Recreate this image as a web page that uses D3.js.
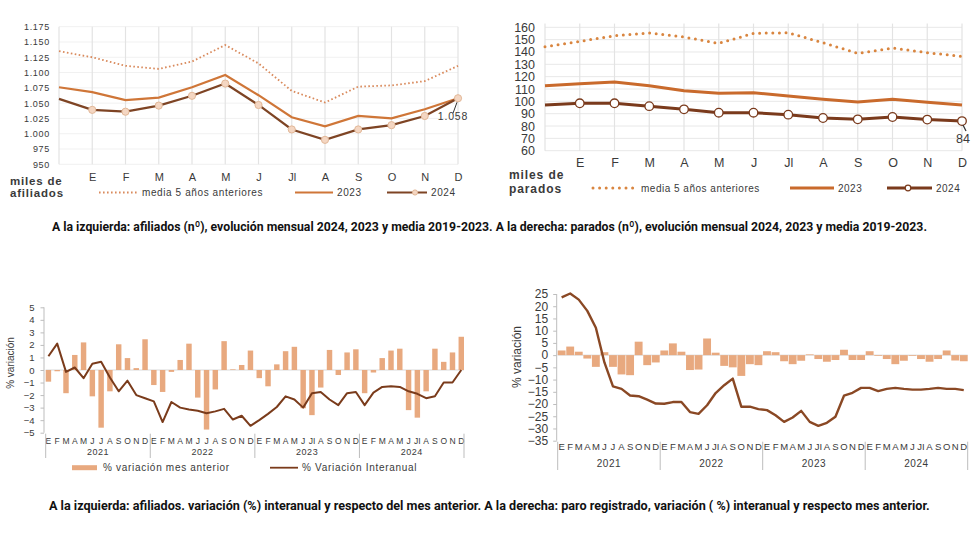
<!DOCTYPE html>
<html><head><meta charset="utf-8">
<script src="https://cdn.jsdelivr.net/npm/d3@7"></script>
<style>body{margin:0;background:#fff}svg{display:block;font-family:"Liberation Sans",Arial,sans-serif}</style>
</head><body><svg id="c" width="980" height="553"></svg>
<script>
// ---------- DATA ----------
const mesesAnual = ["", "E","F","M","A","M","J","Jl","A","S","O","N","D"];
const ticksAfiliados = [950,975,1000,1025,1050,1075,1100,1125,1150,1175];
const afiliadosMedia = [1135,1125,1111,1106,1118,1145,1115,1070,1051,1077,1079,1086,1111];
const afiliados2023  = [1076,1068,1055,1059,1076,1096,1063,1027,1012,1029,1025,1040,1058];
const afiliados2024  = [1057,1039,1036,1046,1062,1082,1047,1007,990,1007,1014,1029,1058];

const ticksParados = [60,70,80,90,100,110,120,130,140,150,160];
const paradosMedia = [144.3,148.6,153.2,155.4,152.1,147,155.1,155.6,147.5,138.9,143.2,139.4,136.5];
const parados2023  = [112.7,114.3,115.7,112.7,108.6,106.5,107,104.3,101.7,99.5,101.7,99.2,97];
const parados2024  = [97,98.4,98.4,96.1,93.5,90.8,90.8,89.2,86.5,85.4,87.3,85.2,84];

const años = ["2021","2022","2023","2024"];
const mesesJJ = ["E","F","M","A","M","J","J","A","S","O","N","D"];
const mesesJI = ["E","F","M","A","M","J","JI","A","S","O","N","D"];
const etiquetasIzq = [mesesJJ, mesesJJ, mesesJI, mesesJI].flat();
const etiquetasDer = [mesesJJ, mesesJI, mesesJI, mesesJI].flat();

const ticksVarAfil = [-5,-4,-3,-2,-1,0,1,2,3,4,5];
const afilMesAnterior = [-0.93,-0.1,-1.85,1.2,2.2,-2.1,-4.6,-1.7,2.05,0.95,0.15,2.45,
  -1.2,-1.75,-0.15,0.8,2.1,-2.2,-4.75,-1.55,2.3,0.05,0.4,1.55,
  -0.65,-1.3,0.45,1.5,1.85,-3.05,-3.6,-1.4,1.6,-0.4,1.4,1.65,
  -1.85,-0.2,0.95,1.55,1.7,-3.2,-3.8,-1.7,1.7,0.65,1.4,2.65];
const afilInteranual = [1.1,2.1,-0.15,0.2,-0.65,0.5,0.65,-0.6,-1.7,-0.85,-2.0,-2.25,
  -2.5,-4.15,-2.55,-3.0,-3.15,-3.25,-3.45,-3.3,-3.1,-3.95,-3.65,-4.45,
  -4.0,-3.5,-2.95,-2.1,-2.35,-3.0,-1.85,-1.75,-2.35,-2.8,-1.85,-1.75,
  -2.8,-1.8,-1.35,-1.3,-1.35,-1.7,-1.9,-2.25,-2.1,-1.0,-1.0,0.0];

const ticksVarParo = [-35,-30,-25,-20,-15,-10,-5,0,5,10,15,20,25];
const paroMesAnterior = [1.9,3.5,1.4,-1.4,-4.8,1.2,-4.8,-7.9,-8.2,5.5,-4.1,-3.0,
  1.9,4.8,1.4,-6.1,-5.9,6.8,1.0,-4.4,-5.0,-8.5,-3.7,-4.1,
  1.6,1.2,-2.5,-3.7,-2.3,0.3,-1.6,-2.7,-2.0,2.2,-2.0,-2.0,
  1.6,-0.3,-1.6,-3.7,-2.3,-0.3,-1.6,-2.7,-1.6,1.9,-2.2,-2.5];
const paroInteranual = [23.6,25.2,22.7,18.1,11.2,-3.0,-12.8,-13.8,-16.5,-16.8,-18.2,-19.8,
  -19.9,-19.2,-19.2,-23.3,-24.0,-20.5,-15.5,-12.3,-9.6,-21.1,-21.1,-22.1,
  -22.5,-24.6,-27.3,-25.5,-22.8,-27.3,-28.9,-27.7,-25.2,-16.6,-15.4,-13.4,
  -13.4,-14.7,-13.8,-13.4,-13.8,-14.1,-14.1,-13.8,-13.4,-13.8,-13.8,-14.3];

const caption1 = "A la izquierda: afiliados (nº), evolución mensual 2024, 2023 y media 2019-2023. A la derecha: parados (nº), evolución mensual 2024, 2023 y media 2019-2023.";
const caption2 = "A la izquierda: afiliados. variación (%) interanual y respecto del mes anterior. A la derecha: paro registrado, variación ( %) interanual y respecto mes anterior.";

// ---------- DRAW ----------
const svg = d3.select("#c");
svg.append("rect").attr("width",980).attr("height",553).attr("fill","#fff");
const es = d3.formatLocale({decimal:",",thousands:".",grouping:[3],currency:["","€"]});
const fmtMiles = es.format(",");
const TXT = "#3a3a3a";

function styleAxis(g, size, spacing){
  g.attr("font-family",null).attr("font-size",null);
  g.select(".domain").remove();
  g.selectAll("text").attr("font-size",size).attr("fill",TXT).attr("letter-spacing",spacing||0);
}

// ===== Top-left: afiliados =====
(function(){
  const g = svg.append("g");
  const x = d3.scalePoint().domain(d3.range(mesesAnual.length)).range([59,458]);
  const y = d3.scaleLinear().domain([950,1175]).range([164.3,26.7]);
  g.selectAll(".hg").data(ticksAfiliados).join("line")
    .attr("x1",59).attr("x2",458).attr("y1",d=>y(d)).attr("y2",d=>y(d))
    .attr("stroke","#f1f1f1").attr("stroke-width",1);
  g.selectAll(".vg").data(d3.range(mesesAnual.length)).join("line")
    .attr("x1",d=>x(d)).attr("x2",d=>x(d)).attr("y1",y(1175)).attr("y2",y(950))
    .attr("stroke","#e3e3e3").attr("stroke-width",1.2);
  const ya = g.append("g").attr("transform","translate(59,0)")
    .call(d3.axisLeft(y).tickValues(ticksAfiliados).tickFormat(fmtMiles).tickSize(0).tickPadding(9));
  styleAxis(ya, 9, 0.7);
  const xa = g.append("g").attr("transform","translate(0,167)")
    .call(d3.axisBottom(x).tickFormat(i=>mesesAnual[i]).tickSize(0).tickPadding(6));
  styleAxis(xa, 11);
  const line = d3.line().x((d,i)=>x(i)).y(d=>y(d));
  g.append("path").datum(afiliadosMedia).attr("d",line).attr("fill","none")
    .attr("stroke","#d98a5c").attr("stroke-width",1.8).attr("stroke-dasharray","1.6 2.4");
  g.append("path").datum(afiliados2023).attr("d",line).attr("fill","none")
    .attr("stroke","#cf7638").attr("stroke-width",2.2);
  g.append("path").datum(afiliados2024).attr("d",line).attr("fill","none")
    .attr("stroke","#7e4424").attr("stroke-width",2.2);
  g.selectAll(".mk").data(afiliados2024.slice(1)).join("circle")
    .attr("cx",(d,i)=>x(i+1)).attr("cy",d=>y(d)).attr("r",3.6)
    .attr("fill","#f4d6c2").attr("stroke","#e2b898").attr("stroke-width",1);
  const last = afiliados2024.length-1;
  g.append("line").attr("x1",x(last)-1).attr("y1",y(afiliados2024[last])+4)
    .attr("x2",x(last)-5).attr("y2",y(afiliados2024[last])+15).attr("stroke","#333").attr("stroke-width",1);
  g.append("text").attr("x",x(last)-5).attr("y",y(afiliados2024[last])+22).attr("text-anchor","middle")
    .attr("font-size",10.5).attr("fill",TXT).attr("letter-spacing",0.8).text(fmtMiles(afiliados2024[last]));
  g.append("text").attr("x",10).attr("y",185).attr("font-size",11.5).attr("font-weight",600)
    .attr("fill",TXT).attr("letter-spacing",0.8).text("miles de");
  g.append("text").attr("x",10).attr("y",197).attr("font-size",11.5).attr("font-weight",600)
    .attr("fill",TXT).attr("letter-spacing",0.8).text("afiliados");
  const ly = 192.5;
  g.append("line").attr("x1",99).attr("x2",137).attr("y1",ly).attr("y2",ly)
    .attr("stroke","#d98a5c").attr("stroke-width",1.8).attr("stroke-dasharray","1.6 2.4");
  g.append("text").attr("x",142).attr("y",ly+3.5).attr("font-size",10).attr("fill",TXT)
    .attr("letter-spacing",0.6).text("media 5 años anteriores");
  g.append("line").attr("x1",295).attr("x2",333).attr("y1",ly).attr("y2",ly)
    .attr("stroke","#cf7638").attr("stroke-width",2.2);
  g.append("text").attr("x",337).attr("y",ly+3.5).attr("font-size",10).attr("fill",TXT)
    .attr("letter-spacing",0.6).text("2023");
  g.append("line").attr("x1",387).attr("x2",427).attr("y1",ly).attr("y2",ly)
    .attr("stroke","#7e4424").attr("stroke-width",2.2);
  g.append("circle").attr("cx",415).attr("cy",ly).attr("r",2.6)
    .attr("fill","#f4d6c2").attr("stroke","#e2b898");
  g.append("text").attr("x",431).attr("y",ly+3.5).attr("font-size",10).attr("fill",TXT)
    .attr("letter-spacing",0.6).text("2024");
})();

// ===== Top-right: parados =====
(function(){
  const g = svg.append("g");
  const x = d3.scalePoint().domain(d3.range(mesesAnual.length)).range([545,962]);
  const y = d3.scaleLinear().domain([60,160]).range([150.7,27.3]);
  g.selectAll(".hg").data(ticksParados).join("line")
    .attr("x1",545).attr("x2",962).attr("y1",d=>y(d)).attr("y2",d=>y(d))
    .attr("stroke","#e8e8e8").attr("stroke-width",1);
  g.selectAll(".vg").data(d3.range(mesesAnual.length)).join("line")
    .attr("x1",d=>x(d)).attr("x2",d=>x(d)).attr("y1",y(163)).attr("y2",y(60))
    .attr("stroke","#e3e3e3").attr("stroke-width",1.2);
  const ya = g.append("g").attr("transform","translate(545,0)")
    .call(d3.axisLeft(y).tickValues(ticksParados).tickSize(0).tickPadding(10));
  styleAxis(ya, 12.5);
  const xa = g.append("g").attr("transform","translate(0,155)")
    .call(d3.axisBottom(x).tickFormat(i=>mesesAnual[i]).tickSize(0).tickPadding(3));
  styleAxis(xa, 12.5);
  const line = d3.line().x((d,i)=>x(i)).y(d=>y(d));
  g.append("path").datum(paradosMedia).attr("d",line).attr("fill","none")
    .attr("stroke","#d9853f").attr("stroke-width",3).attr("stroke-linecap","round").attr("stroke-dasharray","0 6.6");
  g.append("path").datum(parados2023).attr("d",line).attr("fill","none")
    .attr("stroke","#c96a2c").attr("stroke-width",3);
  g.append("path").datum(parados2024).attr("d",line).attr("fill","none")
    .attr("stroke","#7a3a1c").attr("stroke-width",3);
  g.selectAll(".mk").data(parados2024.slice(1)).join("circle")
    .attr("cx",(d,i)=>x(i+1)).attr("cy",d=>y(d)).attr("r",4.3)
    .attr("fill","#fff").attr("stroke","#7a3a1c").attr("stroke-width",1.3);
  const last = parados2024.length-1;
  g.append("line").attr("x1",x(last)+1).attr("y1",y(parados2024[last])+4)
    .attr("x2",x(last)+4).attr("y2",y(parados2024[last])+10).attr("stroke","#333").attr("stroke-width",1.2);
  g.append("text").attr("x",x(last)+1).attr("y",y(parados2024[last])+22).attr("text-anchor","middle")
    .attr("font-size",12.5).attr("fill",TXT).text(parados2024[last]);
  g.append("text").attr("x",509).attr("y",179).attr("font-size",12).attr("font-weight","bold")
    .attr("fill",TXT).attr("letter-spacing",0.9).text("miles de");
  g.append("text").attr("x",509).attr("y",192.5).attr("font-size",12).attr("font-weight","bold")
    .attr("fill",TXT).attr("letter-spacing",0.9).text("parados");
  const ly = 188;
  g.append("line").attr("x1",593).attr("x2",634).attr("y1",ly).attr("y2",ly)
    .attr("stroke","#d9853f").attr("stroke-width",3).attr("stroke-linecap","round").attr("stroke-dasharray","0 6.6");
  g.append("text").attr("x",641).attr("y",ly+3.5).attr("font-size",10).attr("fill",TXT)
    .attr("letter-spacing",0.5).text("media 5 años anteriores");
  g.append("line").attr("x1",790).attr("x2",834).attr("y1",ly).attr("y2",ly)
    .attr("stroke","#c96a2c").attr("stroke-width",3);
  g.append("text").attr("x",838).attr("y",ly+3.5).attr("font-size",10).attr("fill",TXT)
    .attr("letter-spacing",0.5).text("2023");
  g.append("line").attr("x1",887).attr("x2",932).attr("y1",ly).attr("y2",ly)
    .attr("stroke","#7a3a1c").attr("stroke-width",3);
  g.append("circle").attr("cx",908).attr("cy",ly).attr("r",2.8)
    .attr("fill","#fff").attr("stroke","#7a3a1c").attr("stroke-width",1.2);
  g.append("text").attr("x",936).attr("y",ly+3.5).attr("font-size",10).attr("fill",TXT)
    .attr("letter-spacing",0.5).text("2024");
})();

// ===== Bottom charts helper =====
function varChart(o){
  const g = svg.append("g");
  const x = d3.scaleBand().domain(d3.range(o.bars.length)).range([o.x0,o.x1]).paddingInner(o.pad);
  const y = d3.scaleLinear().domain(o.dom).range([o.yb,o.yt]);
  g.append("line").attr("x1",o.x0).attr("x2",o.x1).attr("y1",y(0)).attr("y2",y(0))
    .attr("stroke","#d9d9d9").attr("stroke-width",1);
  g.selectAll(".bar").data(o.bars).join("rect")
    .attr("x",(d,i)=>x(i)).attr("width",x.bandwidth())
    .attr("y",d=>y(Math.max(0,d))).attr("height",d=>Math.abs(y(d)-y(0)))
    .attr("fill",o.barColor);
  g.append("path").datum(o.line)
    .attr("d",d3.line().x((d,i)=>x(i)+x.bandwidth()/2).y(d=>y(d)))
    .attr("fill","none").attr("stroke",o.lineColor).attr("stroke-width",o.lw).attr("stroke-linejoin","round");
  const ya = g.append("g").attr("transform",`translate(${o.axisX},0)`)
    .call(d3.axisLeft(y).tickValues(o.ticks).tickSize(3.5).tickPadding(o.tp));
  ya.attr("font-family",null).attr("font-size",null);
  ya.select(".domain").attr("stroke","#bdbdbd").attr("d",`M0,${o.yt}V${o.yb}`);
  ya.selectAll(".tick line").attr("stroke","#bdbdbd");
  ya.selectAll("text").attr("font-size",o.tfs).attr("fill",TXT);
  const xa = g.append("g").attr("transform",`translate(0,${o.yb})`)
    .call(d3.axisBottom(x).tickFormat(i=>o.labels[i]).tickSize(0).tickPadding(o.mp));
  styleAxis(xa, o.mfs);
  const step = (o.x1-o.x0)/años.length;
  const yrs = d3.scaleBand().domain(años).range([o.x0,o.x1]);
  g.selectAll(".div").data(d3.range(años.length+1)).join("line")
    .attr("x1",d=>o.x0+d*step).attr("x2",d=>o.x0+d*step)
    .attr("y1",o.yb+1).attr("y2",o.divBottom).attr("stroke","#bdbdbd").attr("stroke-width",1);
  g.selectAll(".yr").data(años).join("text")
    .attr("x",d=>yrs(d)+yrs.bandwidth()/2).attr("y",o.yearY).attr("text-anchor","middle")
    .attr("font-size",o.yfs).attr("fill",TXT).attr("letter-spacing",0.5).text(d=>d);
  g.append("text").attr("transform",`translate(${o.labX},${o.labY}) rotate(-90)`)
    .attr("text-anchor","middle").attr("font-size",o.lfs).attr("fill",TXT).text("% variación");
  return g;
}

const gBL = varChart({bars:afilMesAnterior,line:afilInteranual,labels:etiquetasIzq,
  x0:45.7,x1:464,pad:0.38,dom:[-5,5],yb:432.7,yt:307.3,ticks:ticksVarAfil,
  barColor:"#e8a97f",lineColor:"#7a3b1b",lw:2,axisX:44,tp:6,tfs:9.5,mp:5,mfs:8.5,
  yearY:455,yfs:9,divBottom:458,labX:14,labY:363,lfs:10});
// legend bottom-left
gBL.append("line").attr("x1",72).attr("x2",97).attr("y1",467.7).attr("y2",467.7)
  .attr("stroke","#e8a97f").attr("stroke-width",5);
gBL.append("text").attr("x",103).attr("y",471).attr("font-size",10).attr("fill",TXT)
  .attr("letter-spacing",0.7).text("% variación mes anterior");
gBL.append("line").attr("x1",270).attr("x2",298).attr("y1",467.7).attr("y2",467.7)
  .attr("stroke","#7a3b1b").attr("stroke-width",1.8);
gBL.append("text").attr("x",302).attr("y",471).attr("font-size",10).attr("fill",TXT)
  .attr("letter-spacing",0.7).text("% Variación Interanual");

varChart({bars:paroMesAnterior,line:paroInteranual,labels:etiquetasDer,
  x0:557.7,x1:967.7,pad:0.08,dom:[-35,25],yb:440.7,yt:294,ticks:ticksVarParo,
  barColor:"#e8a97f",lineColor:"#8a4824",lw:2.4,axisX:556.7,tp:5,tfs:12,mp:3,mfs:9.5,
  yearY:466.5,yfs:10,divBottom:470,labX:521,labY:357,lfs:12});

// captions (condensed look via horizontal scaling to the measured width)
function caption(txt, x, y, w){
  const t = svg.append("text").attr("font-family","Roboto, 'Liberation Sans', sans-serif")
    .attr("font-size",13.5).attr("font-weight",700).attr("fill","#111").text(txt);
  const nat = t.node().getComputedTextLength();
  const s = w / nat;
  t.attr("transform",`translate(${x},${y}) scale(${s},1)`);
}
caption(caption1, 52, 231, 876);
caption(caption2, 49, 510, 882);
</script></body></html>
